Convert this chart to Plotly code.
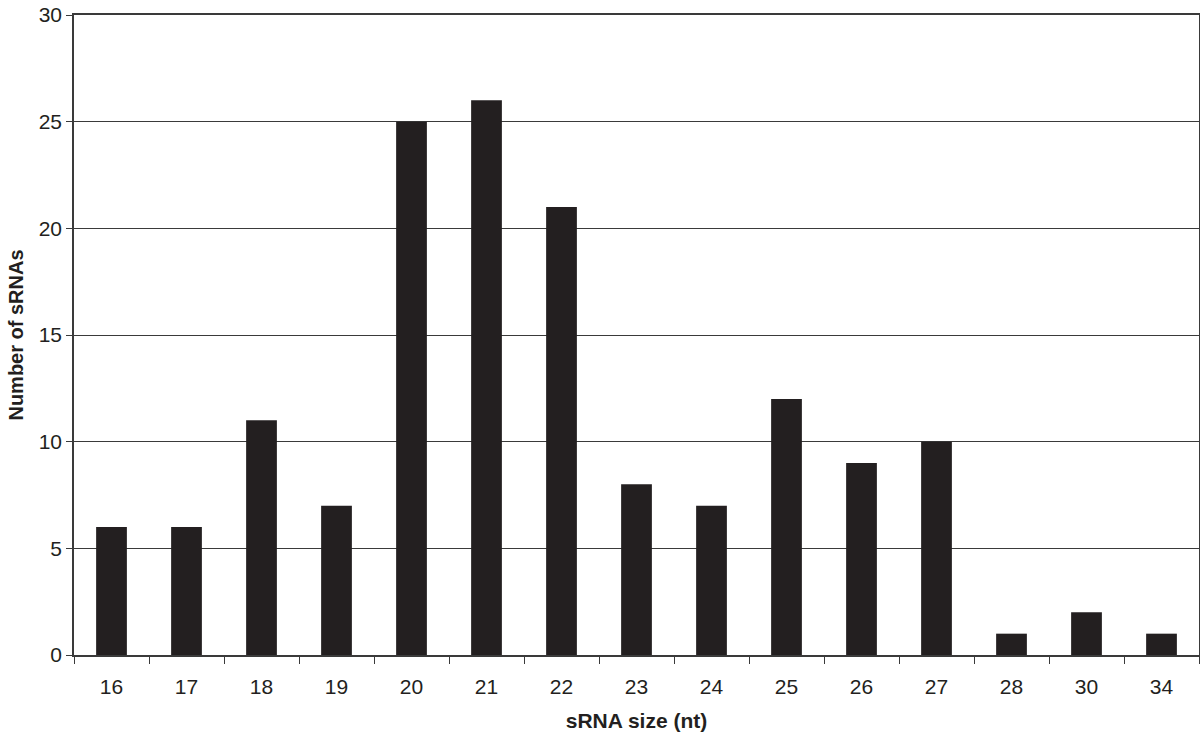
import plotly.graph_objects as go

sizes = ["16", "17", "18", "19", "20", "21", "22", "23", "24", "25", "26", "27", "28", "30", "34"]
counts = [6, 6, 11, 7, 25, 26, 21, 8, 7, 12, 9, 10, 1, 2, 1]

fig = go.Figure(go.Bar(x=sizes, y=counts, marker=dict(color="#231f20", line=dict(width=0))))

fig.update_layout(
    width=1200, height=746,
    margin=dict(l=74, r=1, t=15, b=91, autoexpand=False),
    plot_bgcolor="white", paper_bgcolor="white",
    bargap=0.59,
    showlegend=False,
    font=dict(family="Liberation Sans, Arial", size=21, color="#231f20"),
)
fig.update_xaxes(
    type="category", tickson="boundaries", ticks="outside", ticklen=7, tickcolor="#3a3a3a",
    showline=True, linecolor="#3a3a3a", linewidth=2, mirror=True, showgrid=False,
    tickfont=dict(size=21), automargin=False, ticklabelstandoff=12,
    title=dict(text="<b>sRNA size (nt)</b>", font=dict(size=21), standoff=16),
)
fig.update_yaxes(
    range=[0, 30], dtick=5, ticks="outside", ticklen=6, tickcolor="#3a3a3a",
    showline=True, linecolor="#3a3a3a", linewidth=1.5, mirror=True,
    showgrid=True, gridcolor="#3a3a3a", gridwidth=1, zeroline=False,
    tickfont=dict(size=21), automargin=False,
    title=dict(text="<b>Number of sRNAs</b>", font=dict(size=20), standoff=10),
)

# page has an 8px body margin by default, drop it so the figure fills the window
fig.write_html(
    "out.html",
    config={"responsive": False, "displayModeBar": False},
    post_script="document.body.style.margin='0';document.body.style.overflow='hidden';",
)
